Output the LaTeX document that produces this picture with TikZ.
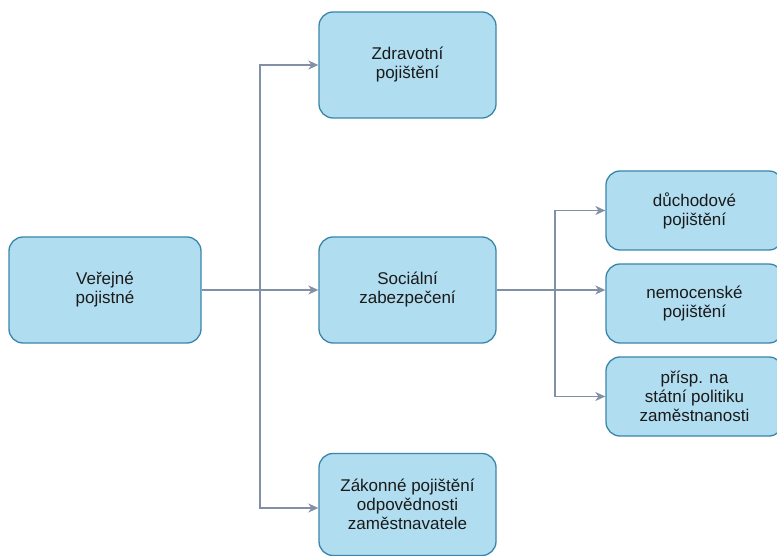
\documentclass[tikz,border=0pt]{standalone}
\usepackage{fontspec}
\setmainfont{Liberation Sans}
\usetikzlibrary{arrows.meta}
\definecolor{boxfill}{HTML}{B1DDF0}
\definecolor{boxline}{HTML}{3A86AA}
\definecolor{linkcol}{HTML}{8290A6}
\definecolor{textcol}{HTML}{1A1A1A}
\begin{document}
\begin{tikzpicture}[x=1pt,y=-1pt,
  box/.style={draw=boxline, fill=boxfill, line width=1.3pt, rounded corners=14pt,
    minimum width=177pt, minimum height=106pt, align=center, inner sep=0pt,
    text=textcol, font=\fontsize{17}{19}\selectfont},
  smallbox/.style={box, minimum height=79pt},
  link/.style={draw=linkcol, line width=1.3pt, -{Stealth[length=10pt,width=9pt,inset=3pt]}}
]
\useasboundingbox (0,0) rectangle (777,556);

% main boxes
\node[box, minimum width=192pt] (verejne) at (105,290) {Veřejné\\pojistné};
\node[box] (zdrav) at (407.5,65) {Zdravotní\\pojištění};
\node[box] (social) at (407.5,290) {Sociální\\zabezpečení};
\node[box, minimum height=102pt] (zakon) at (407.5,504.5) {Zákonné pojištění\\odpovědnosti\\zaměstnavatele};

% social security branches
\node[smallbox] (duch) at (694.5,210.5) {důchodové\\pojištění};
\node[smallbox] (nemoc) at (694.5,303.5) {nemocenské\\pojištění};
\node[smallbox] (prisp) at (694.5,396.5) {přísp. na\\státní politiku\\zaměstnanosti};

% junctions
\coordinate (j1) at (260,290);
\coordinate (j2) at (555,290);

% connectors
\draw[link] (verejne.east) -- (j1) |- (zdrav.west);
\draw[link] (j1) -- (social.west);
\draw[link] (j1) |- ([yshift=-3.5pt]zakon.west);

\draw[link] (social.east) -- (j2) |- (duch.west);
\draw[link] (j2) -- (nemoc.west |- j2);
\draw[link] (j2) |- (prisp.west);
\end{tikzpicture}
\end{document}
